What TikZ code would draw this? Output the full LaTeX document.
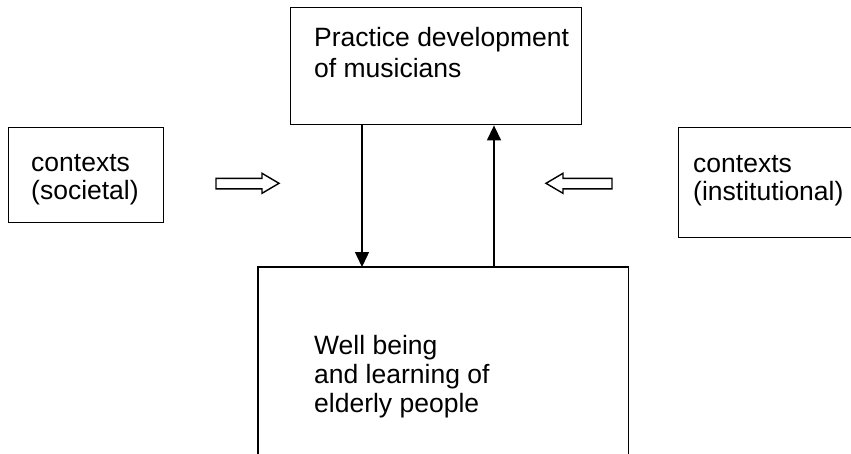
\documentclass[tikz,border=0pt]{standalone}
\usepackage{fontspec}
\setmainfont{Liberation Sans}
\usetikzlibrary{arrows.meta}
\begin{document}
\begin{tikzpicture}[x=1pt,y=-1pt,
  box/.style={draw, line width=1.4pt, inner sep=0pt, anchor=north west},
  openbox/.style={draw=none, inner sep=0pt, anchor=north west},
  lbl/.style={anchor=base west, inner sep=0pt, font=\fontsize{26.5}{30}\selectfont},
  link/.style={line width=1.4pt, -{Triangle[length=15pt,width=14pt]}},
  hollow/.style={draw, line width=1.4pt, fill=white, line join=miter}
]
\useasboundingbox (0,0) rectangle (851,453);
% boxes
\node[box, minimum width=291pt, minimum height=117pt] (pd) at (290,7) {};
\node[box, minimum width=155pt, minimum height=95pt] (soc) at (8,127) {};
\node[box, minimum width=190pt, minimum height=110pt] (inst) at (678,127) {};
\node[openbox, minimum width=370pt, minimum height=190pt] (wb) at (258,267) {};
\draw[line width=1.4pt] (wb.south west) -- (wb.north west) -- (wb.north east) -- (wb.south east);
% labels
\node[lbl] (pd1) at (314,46) {Practice development};
\node[lbl] (pd2) at (314,77) {of musicians};
\node[lbl] (wb1) at (314,354) {Well being};
\node[lbl] (wb2) at (314,383) {and learning of};
\node[lbl] (wb3) at (314,412) {elderly people};
\node[lbl] (soc1) at (31,171) {contexts};
\node[lbl] (soc2) at (31,199) {(societal)};
\node[lbl] (inst1) at (693,172) {contexts};
\node[lbl] (inst2) at (693,200) {(institutional)};
% connectors
\draw[link] ([xshift=72pt]pd.south west) -- ([xshift=72pt]pd.south west |- wb.north);
\draw[link] ([xshift=236pt]wb.north west) -- ([xshift=236pt]wb.north west |- pd.south);
% hollow block arrows
\draw[hollow] (216,178.3) -- (262,178.3) -- (262,173.3) -- (279,183.3) -- (262,193.3) -- (262,188.8) -- (216,188.8) -- cycle;
\draw[hollow] (612,178.3) -- (563,178.3) -- (563,173.3) -- (546,183.3) -- (563,193.3) -- (563,188.8) -- (612,188.8) -- cycle;
\end{tikzpicture}
\end{document}
